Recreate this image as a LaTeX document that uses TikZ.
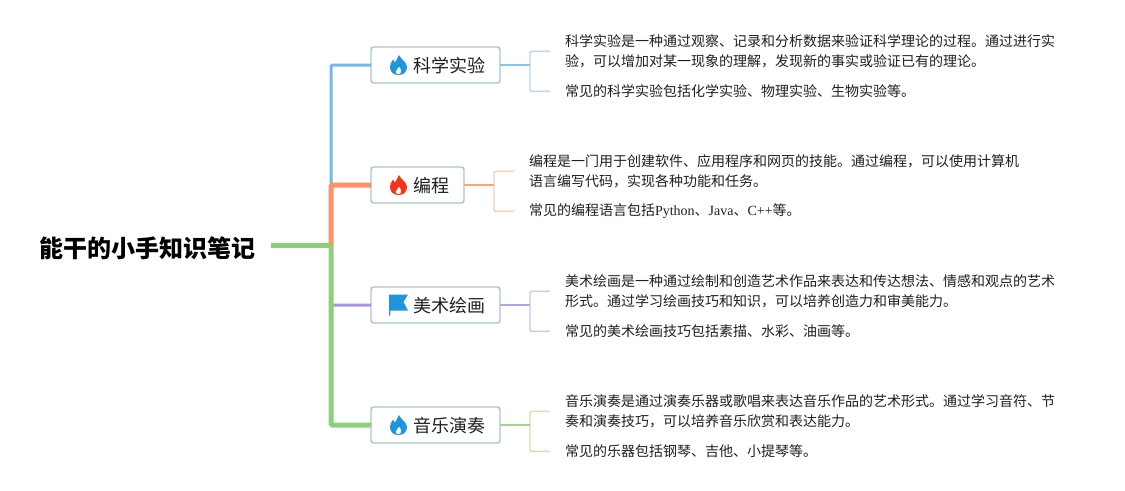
\documentclass[tikz,border=0pt]{standalone}
\usepackage{fontspec}
\setmainfont{Liberation Serif}
\newfontfamily\cjk{Noto Sans CJK SC}
\usetikzlibrary{positioning,calc}
\definecolor{Ink}{HTML}{1F1F1F}
\definecolor{Frame}{HTML}{A8C9BF}
\definecolor{IconBlue}{HTML}{1E95DC}
\definecolor{IconRed}{HTML}{F5331B}
\definecolor{Blue}{HTML}{73B8E6}
\definecolor{BlueSoft}{HTML}{B5D6EE}
\definecolor{Orange}{HTML}{FF9166}
\definecolor{OrangeSoft}{HTML}{F8CDB8}
\definecolor{Purple}{HTML}{A992E8}
\definecolor{PurpleSoft}{HTML}{CFC5EC}
\definecolor{Green}{HTML}{8ED07A}
\definecolor{GreenSoft}{HTML}{C3E5B8}
\tikzset{
  root/.style={font=\cjk\bfseries\fontsize{18}{22}\selectfont,text=black,inner xsep=11.25pt,inner ysep=0pt,outer sep=0pt,text height=18.2pt,text depth=0pt},
  branch/.style={draw=Frame,line width=1.1pt,rounded corners=2pt,fill=white,text=Ink,minimum height=27pt,inner xsep=11.25pt,inner ysep=0pt,outer sep=0pt,text height=11.7pt,text depth=0pt,font=\cjk\fontsize{13.5}{16}\selectfont,execute at begin node=\hspace*{20.25pt}},
  leaf/.style={align=left,text=Ink,inner xsep=11.25pt,inner ysep=0pt,outer sep=0pt,font=\cjk\fontsize{10.5}{15}\selectfont},
  thick line/.style={line width=3.75pt,rounded corners=1pt},
  thin line/.style={line width=2.25pt,rounded corners=1pt},
  stub/.style={line width=1.2pt},
  bracket/.style={line width=1.1pt,rounded corners=1pt},
  pics/flame/.style={code={
    \fill[#1,even odd rule] (0,-10) .. controls (5.5,-10) and (8.5,-6.5) .. (8.5,-2)
      .. controls (8.5,3) and (2,5.5) .. (0.5,10)
      .. controls (-0.5,7) and (-2.5,5) .. (-3.5,2.5)
      .. controls (-4.2,3.3) and (-4.8,4.2) .. (-5.5,5.5)
      .. controls (-7.5,3) and (-8.5,0) .. (-8.5,-2)
      .. controls (-8.5,-6.5) and (-5.5,-10) .. (0,-10)
      (0,-9.2) .. controls (3,-9.2) and (3.8,-5.5) .. (0.8,-1.5)
      .. controls (0,-3.5) and (-3,-4.8) .. (-3,-6.8)
      .. controls (-3,-8.2) and (-1.5,-9.2) .. (0,-9.2);
  }},
  pics/flag/.style={code={
    \fill[#1] (-9.5,10.5) -- (9.5,10.5) -- (5,3) -- (9.5,-5.5) -- (-8.2,-5.5) -- (-8.2,-10.5) -- (-9.5,-10.5) -- cycle;
  }}
}
\begin{document}
\begin{tikzpicture}[x=0.75pt,y=0.75pt,node distance=63pt]
\useasboundingbox (0,0) rectangle (1125,-490);
\node[root,anchor=east] (main) at (271,-245) {能干的小手知识笔记};
\coordinate (hub) at (331,-245);
% four topics
\node[branch,anchor=west] (science) at (371,-65) {科学实验};
\node[branch,below=of science.south west,anchor=north west] (coding) {编程};
\node[branch,below=of coding.south west,anchor=north west] (art) {美术绘画};
\node[branch,below=of art.south west,anchor=north west] (music) {音乐演奏};
\pic at ($(science.west)+(27.5,0)$) {flame=IconBlue};
\pic at ($(coding.west)+(27.5,0)$) {flame=IconRed};
\pic at ($(art.west)+(27.5,0)$) {flag=IconBlue};
\pic at ($(music.west)+(27.5,0)$) {flame=IconBlue};
% notes
\node[leaf,right=37.5pt of science.east,anchor=west,yshift=10.25pt] (science1) {科学实验是一种通过观察、记录和分析数据来验证科学理论的过程。通过进行实\\验，可以增加对某一现象的理解，发现新的事实或验证已有的理论。};
\node[leaf,right=37.5pt of science.east,anchor=west,yshift=-19.75pt] (science2) {常见的科学实验包括化学实验、物理实验、生物实验等。};
\node[leaf,right=37.5pt of coding.east,anchor=west,yshift=10.25pt] (coding1) {编程是一门用于创建软件、应用程序和网页的技能。通过编程，可以使用计算机\\语言编写代码，实现各种功能和任务。};
\node[leaf,right=37.5pt of coding.east,anchor=west,yshift=-19.75pt] (coding2) {常见的编程语言包括{\rmfamily Python}、{\rmfamily Java}、{\rmfamily C++}等。};
\node[leaf,right=37.5pt of art.east,anchor=west,yshift=10.25pt] (art1) {美术绘画是一种通过绘制和创造艺术作品来表达和传达想法、情感和观点的艺术\\形式。通过学习绘画技巧和知识，可以培养创造力和审美能力。};
\node[leaf,right=37.5pt of art.east,anchor=west,yshift=-19.75pt] (art2) {常见的美术绘画技巧包括素描、水彩、油画等。};
\node[leaf,right=37.5pt of music.east,anchor=west,yshift=10.25pt] (music1) {音乐演奏是通过演奏乐器或歌唱来表达音乐作品的艺术形式。通过学习音符、节\\奏和演奏技巧，可以培养音乐欣赏和表达能力。};
\node[leaf,right=37.5pt of music.east,anchor=west,yshift=-19.75pt] (music2) {常见的乐器包括钢琴、吉他、小提琴等。};
% trunk
\draw[thin line,Blue] (hub) |- (science.west);
\draw[thick line,Orange] (hub) |- (coding.west);
\draw[thin line,Purple] (hub) |- (art.west);
\draw[thick line,Green] (main.east) -- (hub);
\draw[thick line,Green] (hub) |- (music.west);
% brackets
\foreach \topic/\hue in {science/Blue,coding/Orange,art/Purple,music/Green}{
  \coordinate (\topic j) at ($(\topic.east)+(30,0)$);
  \draw[bracket,\hue Soft] (\topic1.west) -| (\topic j) |- (\topic2.west);
  \draw[stub,\hue!85] (\topic.east) -- (\topic j);
}
\end{tikzpicture}
\end{document}
